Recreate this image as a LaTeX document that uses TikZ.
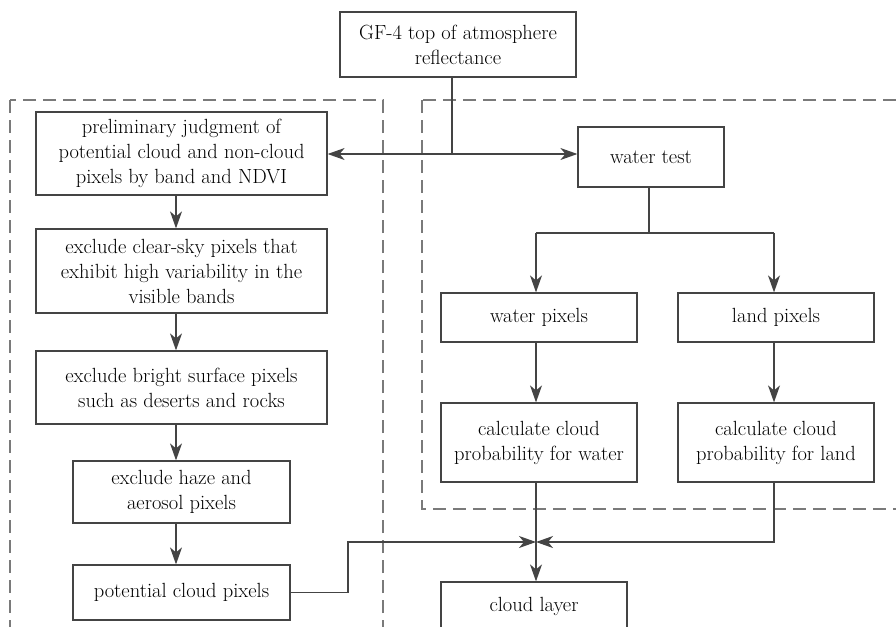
\documentclass[tikz,border=0pt]{standalone}
\usetikzlibrary{arrows.meta}
\definecolor{lncol}{HTML}{444444}
\definecolor{dshcol}{HTML}{7A7A7A}
\begin{document}
\begin{tikzpicture}[x=1pt,y=-1pt,
  box/.style={draw=lncol, line width=1.2pt, align=center, inner sep=0pt,
    font=\fontsize{20.5}{25}\selectfont, text=black},
  conn/.style={draw=lncol, line width=1.3pt},
  arr/.style={draw=lncol, line width=1.3pt, -{Stealth[length=17pt,width=12pt,inset=5pt]}},
  dbox/.style={draw=dshcol, line width=1.1pt, dash pattern=on 13pt off 7pt}]
\useasboundingbox (0,0) rectangle (896,626);

% dashed groups
\draw[dbox] (10,100) rectangle (383,660);
\draw[dbox] (422,100) rectangle (920,509);

% nodes
\node[box, minimum width=236pt, minimum height=65pt] (gf) at (458,44.5) {GF-4 top of atmosphere\\reflectance};
\node[box, minimum width=291pt, minimum height=83pt] (prelim) at (181.5,153.5) {preliminary judgment of\\potential cloud and non-cloud\\pixels by band and NDVI};
\node[box, minimum width=291pt, minimum height=84pt] (clear) at (181.5,271) {exclude clear-sky pixels that\\exhibit high variability in the\\visible bands};
\node[box, minimum width=291pt, minimum height=73pt] (bright) at (181.5,387.5) {exclude bright surface pixels\\such as deserts and rocks};
\node[box, minimum width=217pt, minimum height=62pt] (haze) at (181.5,492) {exclude haze and\\aerosol pixels};
\node[box, minimum width=217pt, minimum height=55pt] (pc) at (181.5,592.5) {potential cloud pixels};
\node[box, minimum width=146pt, minimum height=60pt] (wt) at (651,157) {water test};
\node[box, minimum width=196pt, minimum height=49pt] (wp) at (539,317.5) {water pixels};
\node[box, minimum width=196pt, minimum height=49pt] (lp) at (776,317.5) {land pixels};
\node[box, minimum width=196pt, minimum height=79pt] (cw) at (539,442.5) {calculate cloud\\probability for water};
\node[box, minimum width=196pt, minimum height=79pt] (cl) at (776,442.5) {calculate cloud\\probability for land};
\node[box, minimum width=186pt, minimum height=48pt] (cloud) at (534,606) {cloud layer};

% top split
\coordinate (j) at (452,154);
\draw[conn] (gf.south -| j) -- (j);
\draw[arr] (j) -- (j -| prelim.east);
\draw[arr] (j) -- (j -| wt.west);

% left column
\coordinate (lc) at (176,0);
\draw[arr] (prelim.south -| lc) -- (clear.north -| lc);
\draw[arr] (clear.south -| lc) -- (bright.north -| lc);
\draw[arr] (bright.south -| lc) -- (haze.north -| lc);
\draw[arr] (haze.south -| lc) -- (pc.north -| lc);

% right part
\coordinate (s) at (649,233);
\coordinate (wl) at (536,233);
\coordinate (ll) at (774,233);
\draw[conn] (wt.south -| s) -- (s);
\draw[conn] (wl) -- (ll);
\draw[arr] (wl) -- (wl |- wp.north);
\draw[arr] (ll) -- (ll |- lp.north);
\draw[arr] (wp.south -| wl) -- (cw.north -| wl);
\draw[arr] (lp.south -| ll) -- (cl.north -| ll);

% merge
\coordinate (m) at (536,542);
\coordinate (k) at (348,542);
\draw[arr] (cw.south -| m) -- (cloud.north -| m);
\draw[arr] (cl.south -| ll) |- (m);
\draw[arr] (pc.east) -| (k) -- (m);
\end{tikzpicture}
\end{document}
